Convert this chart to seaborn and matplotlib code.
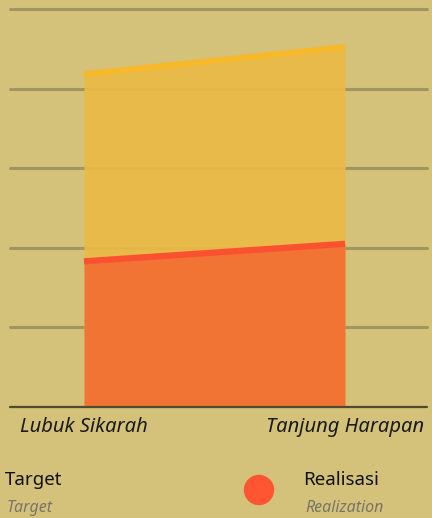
import numpy as np
import pandas as pd
import matplotlib
matplotlib.use("Agg")
import matplotlib.pyplot as plt
import seaborn as sns

# chart data
regions = ["Lubuk Sikarah", "Tanjung Harapan"]
target = [418, 452]
realisasi = [183, 205]
grid_ticks = [100, 200, 300, 400, 500]

BG = "#D4C27A"
GRID = "#A09660"
TARGET_FILL = "#EBBA45"
TARGET_LINE = "#F7B92C"
REAL_FILL = "#F27434"
REAL_LINE = "#FA5230"

sns.set_theme(style="white")
plt.rcParams['font.family'] = ['Noto Sans', 'DejaVu Sans']

df = pd.DataFrame({"region": regions, "x": np.arange(len(regions)),
                   "Target": target, "Realisasi": realisasi})

fig = plt.figure(figsize=(4.32, 5.18), dpi=100, facecolor=BG)
ax = fig.add_axes([10 / 432, 1 - 407 / 518, 417 / 432, 398 / 518])
ax.set_facecolor(BG)

for t in grid_ticks:
    ax.axhline(t, color=GRID, lw=2.2, zorder=1, clip_on=False)

ax.fill_between(df["x"], 0, df["Target"], color=TARGET_FILL, alpha=0.9, lw=0, zorder=2)
sns.lineplot(data=df, x="x", y="Target", color=TARGET_LINE, lw=4.5, ax=ax, zorder=3,
             solid_capstyle="butt")
ax.fill_between(df["x"], 0, df["Realisasi"], color=REAL_FILL, lw=0, zorder=4)
sns.lineplot(data=df, x="x", y="Realisasi", color=REAL_LINE, lw=4.5, ax=ax, zorder=5,
             solid_capstyle="butt")

ax.axhline(0, color="#4F4A30", lw=1.6, zorder=6, clip_on=False)

ax.set_xlim(-0.2835, 1.314)
ax.set_ylim(0, 500)
ax.set_xticks(df["x"])
ax.set_xticklabels(regions, fontsize=14.5, style="italic", color="#1a1a1a")
ax.tick_params(axis="x", length=0, pad=7)
ax.set_yticks([])
ax.set_xlabel("")
ax.set_ylabel("")
for s in ax.spines.values():
    s.set_visible(False)

# legend
fig.text(5 / 432, 1 - 480 / 518, "Target", fontsize=13.5, color="#111111", va="center")
fig.text(7 / 432, 1 - 508 / 518, "Target", fontsize=11.5, color="#7a7468",
         style="italic", va="center")
fig.patches.append(matplotlib.patches.Ellipse((259 / 432, 1 - 490 / 518), 29 / 432, 29 / 518,
                                              transform=fig.transFigure, color="#FF5533"))
fig.text(303 / 432, 1 - 480 / 518, "Realisasi", fontsize=13.5, color="#111111", va="center")
fig.text(305 / 432, 1 - 508 / 518, "Realization", fontsize=11.5, color="#7a7468",
         style="italic", va="center")

fig.savefig("out.png", dpi=100, facecolor=BG)
